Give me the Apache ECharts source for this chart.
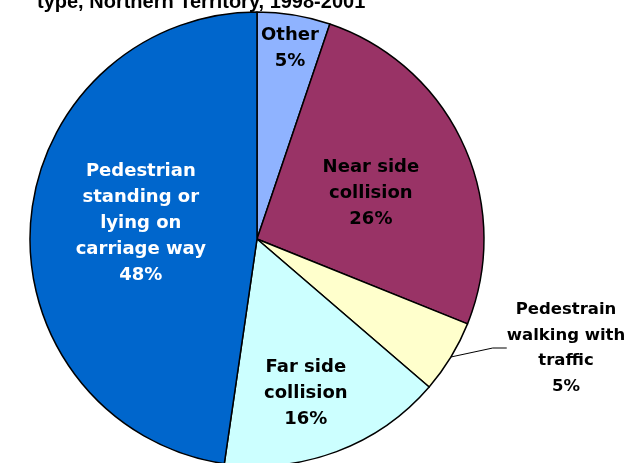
<!DOCTYPE html>
<html>
<head>
<meta charset="utf-8">
<script src="https://cdn.jsdelivr.net/npm/echarts@6/dist/echarts.min.js"></script>
<style>
html, body { margin: 0; padding: 0; background: #fff; }
#main { width: 627px; height: 463px; }
</style>
</head>
<body>
<div id="main"></div>
<script>
// pie of pedestrian crash types, NT 1998-2001
var categories = [ 'Other', 'Near side\ncollision', 'Pedestrain\nwalking with\ntraffic', 'Far side\ncollision', 'Pedestrian\nstanding or\nlying on\ncarriage way' ];
var values = [ 5.2, 25.9, 5.2, 16.0, 47.7 ];

var colors = [ '#8FB3FF', '#993366', '#FFFFCC', '#CCFFFF', '#0066CC' ];
var textColors = [ '#000', '#000', '#000', '#000', '#fff' ];
// nudges for inside labels (px)
var labelShift = [ [ 14, -76 ], [ 8, 3 ], [ 0, 0 ], [ 8, 45 ], [ 0, -7 ] ];

var font = 'DejaVu Sans';

var data = [];
for (var i = 0; i < categories.length; i++) {
    var item = {
	name : categories[i],
	value : values[i],
	itemStyle : { color : colors[i] },
	label : { color : textColors[i] }
    };
    if (i == 2) {
	item.label = {
	    position : 'outside',
	    color : '#000',
	    formatter : function(p) {
		var lines = (p.name + '\n' + p.percent + '%').split('\n');
		return lines.map(function(l) { return '{c|' + l + '}'; }).join('\n');
	    },
	    rich : {
		c : { width : 118, align : 'center', fontFamily : font, fontWeight : 'bold', fontSize : 16.5, lineHeight : 25.5, color : '#000' }
	    }
	};
	item.labelLine = { show : true, length : 10, length2 : 14, lineStyle : { color : '#000', width : 1 } };
    }
    data.push(item);
}

var myChart = echarts.init(document.getElementById('main'));
var option = {
    animation : false,
    title : {
	text : 'type, Northern Territory, 1998-2001',
	left : 32,
	top : -13,
	textStyle : { fontFamily : 'Liberation Sans', fontWeight : 'bold', fontSize : 20, color : '#000' }
    },
    series : [ {
	type : 'pie',
	center : [ 257, 239 ],
	radius : 227,
	startAngle : 90,
	percentPrecision : 0,
	itemStyle : { borderColor : '#000', borderWidth : 1.5 },
	label : {
	    position : 'inside',
	    formatter : '{b}\n{d}%',
	    fontFamily : font,
	    fontWeight : 'bold',
	    fontSize : 18,
	    lineHeight : 26
	},
	labelLayout : function(p) {
	    if (p.dataIndex == 2) {
		return { x : 566, y : 348, align : 'center', verticalAlign : 'middle' };
	    }
	    var s = labelShift[p.dataIndex];
	    return { dx : s[0], dy : s[1] };
	},
	emphasis : { disabled : true },
	data : data
    } ]
};
myChart.setOption(option);
</script>
</body>
</html>
